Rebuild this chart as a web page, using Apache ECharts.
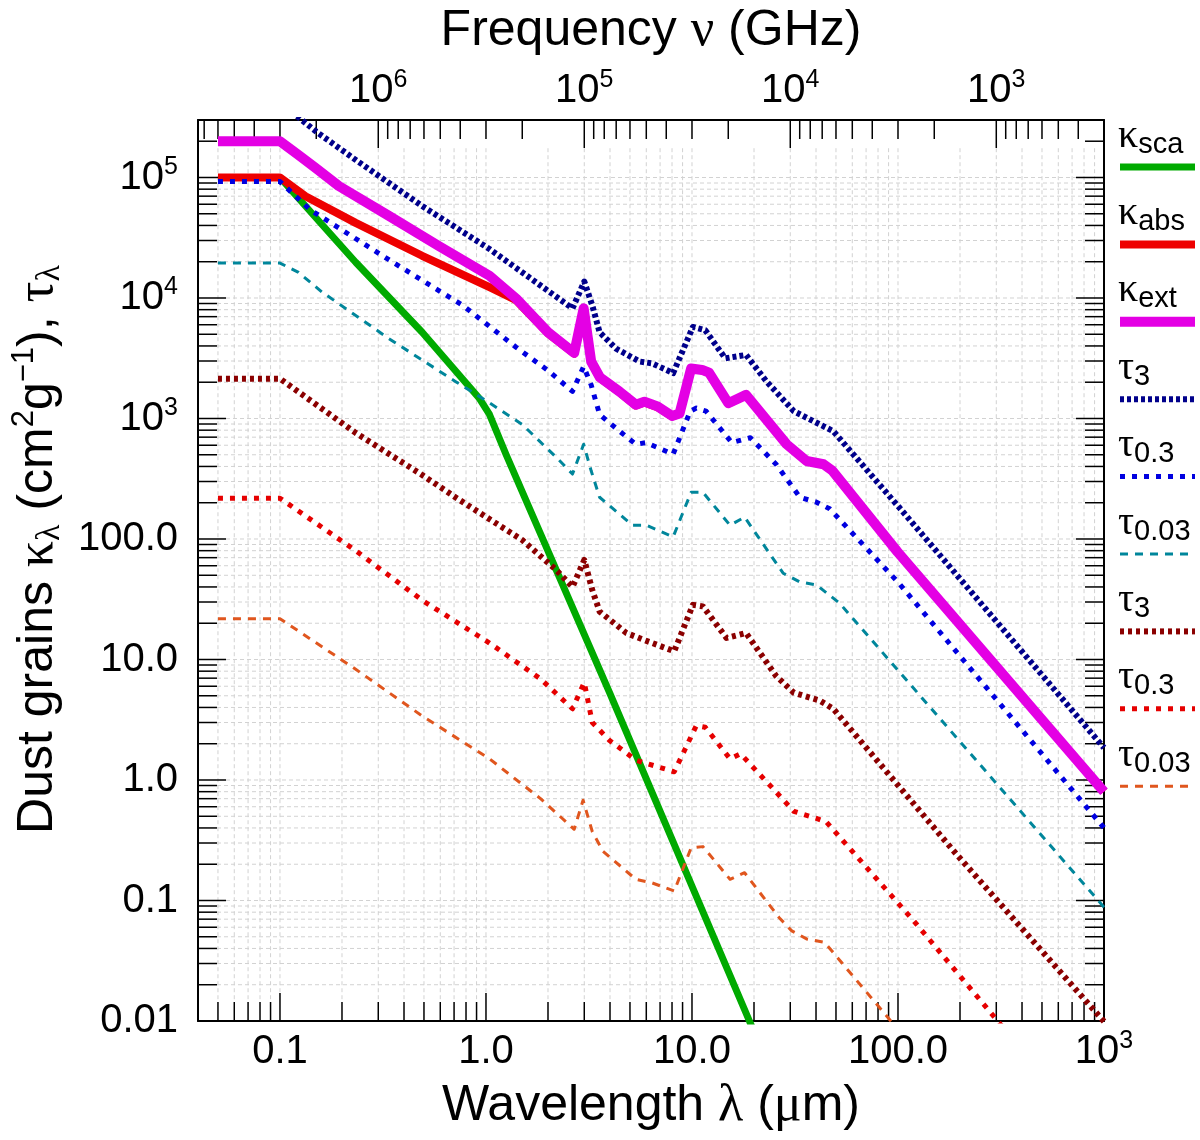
<!DOCTYPE html>
<html>
<head>
<meta charset="utf-8">
<script src="https://cdn.jsdelivr.net/npm/echarts@6/dist/echarts.min.js"></script>
<style>
html, body { margin: 0; padding: 0; background: #fff; }
#chart { width: 1200px; height: 1140px; }
</style>
</head>
<body>
<div id="chart"></div>
<script>
// [wavelength (µm), value]
const kSca = [[0.1,1e5],[0.233,1.98e4],[0.49,5.2e3],[0.925,1.48e3],[1.04,1.08e3],[1.25,505],[3.98,5.3],[19,0.01],[22,0.0056]];
const kAbs = [[0.05,1e5],[0.1,1e5],[0.133,7e4],[0.233,4.2e4],[0.49,2.24e4],[1.04,1.23e4],[1.4,9.6e3],[2.0,5.1e3],[2.68,3.45e3],[2.98,8.1e3],[3.24,2.93e3],[3.57,2.17e3],[4.45,1.65e3],[5.34,1.28e3],[5.88,1.36e3],[6.8,1.24e3],[8.0,1.04e3],[8.7,1.09e3],[9.9,2.58e3],[11.2,2.51e3],[12.1,2.38e3],[15.0,1.33e3],[18.3,1.56e3],[28.8,608],[36,442],[43.5,415],[48.1,366],[99.6,77.8],[1000,0.8]];
const kExt = [[0.05,2e5],[0.1,2e5],[0.123,1.54e5],[0.149,1.2e5],[0.193,8.5e4],[0.338,4.8e4],[0.59,2.7e4],[1.04,1.53e4],[1.4,9.9e3],[2.0,5.2e3],[2.68,3.5e3],[2.98,8.2e3],[3.24,2.97e3],[3.57,2.2e3],[4.45,1.67e3],[5.34,1.3e3],[5.88,1.38e3],[6.8,1.26e3],[8.0,1.05e3],[8.7,1.1e3],[9.9,2.6e3],[11.2,2.53e3],[12.1,2.4e3],[15.0,1.34e3],[18.3,1.57e3],[28.8,611],[36,444],[43.5,417],[48.1,368],[99.6,78],[1000,0.8]];
const tau3a = [[0.05,4.2e5],[0.1,4.2e5],[0.15,2.4e5],[0.233,1.4e5],[0.49,5.8e4],[1.04,2.55e4],[1.84,1.27e4],[2.63,8.2e3],[3.0,1.37e4],[3.28,8.7e3],[3.56,5.2e3],[4.28,3.8e3],[5.57,2.97e3],[6.4,2.87e3],[8.1,2.38e3],[10.1,5.75e3],[11.6,5.4e3],[14.5,3.16e3],[18.3,3.37e3],[23,2.03e3],[31.2,1.15e3],[41.8,892],[48.5,785],[101,184],[1000,1.85]];
const tau03a = [[0.05,9.25e4],[0.1,9.25e4],[0.14,5.4e4],[0.35,2.0e4],[0.77,8.7e3],[1.4,3.9e3],[2.0,2.5e3],[2.63,1.68e3],[2.98,2.7e3],[3.24,1.9e3],[3.56,1.08e3],[4.45,785],[5.34,611],[5.98,630],[8.1,505],[9.8,1.15e3],[10.5,1.22e3],[11.7,1.15e3],[15.6,631],[19.2,693],[25.6,417],[33.4,222],[40.2,202],[46.6,178],[101,43],[1000,0.4]];
const tau003a = [[0.05,1.95e4],[0.1,1.95e4],[0.123,1.63e4],[0.16,1.12e4],[0.338,4.6e3],[0.71,2.03e3],[1.04,1.35e3],[1.5,892],[2.2,474],[2.63,346],[2.98,611],[3.24,368],[3.56,222],[5.14,130],[6.0,130],[8.1,104],[9.9,244],[11.3,244],[15.3,130],[18.0,152],[27.7,52],[33.4,44],[40.2,41.6],[52,29.4],[1000,0.088]];
const tau3b = [[0.05,2140],[0.1,2140],[0.233,760],[0.49,340],[0.71,222],[1.5,98],[2.2,55],[2.63,40],[3.0,67],[3.28,37.8],[3.56,25],[4.8,16.6],[5.8,14.6],[8.2,11.7],[10.1,28.4],[11.3,27.6],[14.7,15.1],[18.3,16.6],[25.6,7.3],[31.2,5.3],[41.8,4.55],[48.5,3.9],[193,0.24],[1000,0.0099]];
const tau03b = [[0.05,218],[0.1,218],[0.233,80],[0.49,31],[1.04,13.7],[1.84,6.9],[2.63,3.9],[3.0,6.46],[3.28,3.0],[3.98,2.13],[5.34,1.46],[8.2,1.17],[10.5,2.83],[11.6,2.74],[15.3,1.5],[17.2,1.65],[24.7,0.85],[31.2,0.55],[40.2,0.48],[44.8,0.45],[119,0.068],[330,0.0085]];
const tau003b = [[0.05,21.8],[0.1,21.8],[0.233,8.3],[0.49,3.4],[1.04,1.5],[1.84,0.70],[2.68,0.39],[2.96,0.68],[3.28,0.374],[3.7,0.256],[5.34,0.15],[6.4,0.14],[8.2,0.12],[9.9,0.273],[11.3,0.28],[15.3,0.15],[18.0,0.17],[26.5,0.072],[30.5,0.056],[36,0.048],[44,0.045],[100,0.0085]];

// tick labels
const lamTicks = [0.1, 1, 10, 100, 1000];
const lamTickText = ['0.1', '1.0', '10.0', '100.0', '10^3'];
const nuTicks = [1e3, 1e4, 1e5, 1e6];
const nuTickText = ['10^3', '10^4', '10^5', '10^6'];
const yTicks = [0.01, 0.1, 1, 10, 100, 1e3, 1e4, 1e5];
const yTickText = ['0.01', '0.1', '1.0', '10.0', '100.0', '10^3', '10^4', '10^5'];
const minorSteps = [2, 3, 4, 5, 6, 7, 8, 9];
const lamDecades = [0.01, 0.1, 1, 10, 100];
const nuDecades = [100, 1e3, 1e4, 1e5, 1e6];
const yDecades = [0.01, 0.1, 1, 10, 100, 1e3, 1e4, 1e5];

const legendLabels = [['κ','sca'],['κ','abs'],['κ','ext'],['τ','3'],['τ','0.3'],['τ','0.03'],['τ','3'],['τ','0.3'],['τ','0.03']];
const seriesData = [kSca, kAbs, kExt, tau3a, tau03a, tau003a, tau3b, tau03b, tau003b];
const styles = [
  { color: '#00aa00', width: 7, type: 'solid' },
  { color: '#ee0000', width: 8, type: 'solid' },
  { color: '#e400e4', width: 10, type: 'solid' },
  { color: '#00008b', width: 6, type: [4, 3] },
  { color: '#0000e0', width: 5, type: [5, 7] },
  { color: '#00869b', width: 3, type: [8, 7] },
  { color: '#8b0000', width: 6, type: [4, 4] },
  { color: '#e60000', width: 5, type: [5, 7] },
  { color: '#e0561e', width: 3, type: [8, 7] }
];

const LAM_MIN = 0.04, LAM_MAX = 1000, Y_MIN = 0.01, Y_MAX = 3e5, C_GHZ = 3e5;
const GRID_TOP = 1.75e5;   // dashed grid stops short of the top frame
const SANS = "'Liberation Sans', Arial, Helvetica, sans-serif";
const SERIF = "'Liberation Serif', 'DejaVu Serif', serif";
const GRID_COLOR = '#d2d2d2';
const MAJOR_LEN = 28, MINOR_LEN = 19;

function stepsIn(decades, steps, lo, hi) {
  let out = [];
  decades.forEach(d => steps.forEach(k => {
    const v = k * d;
    if (v > lo * 1.001 && v < hi * 0.999) out.push(v);
  }));
  return out;
}
const allSteps = [1].concat(minorSteps);

function makeFormatter(ticks, texts) {
  return function (v) {
    for (let i = 0; i < ticks.length; i++) {
      if (Math.abs(Math.log10(v) - Math.log10(ticks[i])) < 1e-6) {
        return texts[i].replace(/^10\^(\d+)$/, '{b|10}{s|$1}');
      }
    }
    return '';
  };
}

const tickRich = {
  b: { fontFamily: SANS, fontSize: 40, lineHeight: 46, color: '#000' },
  s: { fontFamily: SANS, fontSize: 25, lineHeight: 25, verticalAlign: 'top', color: '#000' }
};
const nameRich = {
  t: { fontFamily: SANS, fontSize: 50, lineHeight: 58, color: '#000' },
  g: { fontFamily: SERIF, fontSize: 52, lineHeight: 58, color: '#000' },
  sub: { fontFamily: SERIF, fontSize: 34, lineHeight: 34, verticalAlign: 'bottom', color: '#000' },
  sup: { fontFamily: SANS, fontSize: 31, lineHeight: 31, verticalAlign: 'top', color: '#000' }
};
const axisLine = { onZero: false, lineStyle: { color: '#000', width: 2 } };
const dash = { stroke: GRID_COLOR, lineWidth: 1, lineDash: [4, 3] };
const tickStyle = { stroke: '#000', lineWidth: 1.5 };

function tickLen(v) {
  const e = Math.log10(v);
  return Math.abs(e - Math.round(e)) > 1e-6 ? MINOR_LEN : MAJOR_LEN;
}
function seg(x1, y1, x2, y2, style) {
  return { type: 'line', shape: { x1: x1, y1: y1, x2: x2, y2: y2 }, style: style };
}

// wavelength axis: vertical dashed grid + bottom ticks
function renderLamGrid(params, api) {
  const cs = params.coordSys;
  const v = api.value(0);
  const px = api.coord([v, 1])[0];
  const top = api.coord([v, GRID_TOP])[1];
  const bottom = cs.y + cs.height;
  const tl = tickLen(v);
  return { type: 'group', children: [
    seg(px, top, px, bottom - tl, dash),
    seg(px, bottom, px, bottom - tl, tickStyle)
  ]};
}
// frequency axis: top ticks
function renderNuTicks(params, api) {
  const cs = params.coordSys;
  const v = api.value(0);
  const px = api.coord([v, 1])[0];
  return seg(px, cs.y, px, cs.y + tickLen(v), tickStyle);
}
// value axis: horizontal dashed grid + left/right ticks
function renderYGrid(params, api) {
  const cs = params.coordSys;
  const v = api.value(1);
  const py = api.coord([1, v])[1];
  const right = cs.x + cs.width;
  const tl = tickLen(v);
  const kids = [seg(cs.x, py, cs.x + tl, py, tickStyle), seg(right, py, right - tl, py, tickStyle)];
  if (v < GRID_TOP) kids.push(seg(cs.x + tl, py, right - tl, py, dash));
  return { type: 'group', children: kids };
}

const LEG_X0 = 1120, LEG_X1 = 1195, LEG_Y0 = 167, LEG_DY = 77.4;
const legendGraphic = [];
legendLabels.forEach((lab, i) => {
  const y = LEG_Y0 + i * LEG_DY;
  const st = styles[i];
  legendGraphic.push({
    type: 'text', x: LEG_X0 - 2, y: y - 8,
    style: {
      text: '{g|' + lab[0] + '}{s|' + lab[1] + '}',
      align: 'left', verticalAlign: 'bottom',
      rich: {
        g: { fontFamily: SERIF, fontSize: 40, lineHeight: 46, fill: '#000' },
        s: { fontFamily: SANS, fontSize: 29, lineHeight: 29, verticalAlign: 'bottom', fill: '#000' }
      }
    }
  });
  legendGraphic.push({
    type: 'line', shape: { x1: LEG_X0, y1: y, x2: LEG_X1, y2: y },
    style: { stroke: st.color, lineWidth: st.width, lineDash: st.type === 'solid' ? null : st.type }
  });
});

const chart = echarts.init(document.getElementById('chart'));

let series = [
  { type: 'custom', xAxisIndex: 0, yAxisIndex: 0, z: 1, silent: true, renderItem: renderLamGrid,
    encode: { x: 0, y: 1 }, data: stepsIn(lamDecades, allSteps, LAM_MIN, LAM_MAX).map(v => [v, 1]) },
  { type: 'custom', xAxisIndex: 1, yAxisIndex: 0, z: 1, silent: true, renderItem: renderNuTicks,
    encode: { x: 0, y: 1 }, data: stepsIn(nuDecades, allSteps, C_GHZ / LAM_MAX, C_GHZ / LAM_MIN).map(v => [v, 1]) },
  { type: 'custom', xAxisIndex: 0, yAxisIndex: 0, z: 1, silent: true, renderItem: renderYGrid,
    encode: { x: 0, y: 1 }, data: stepsIn(yDecades, allSteps, Y_MIN, Y_MAX).map(v => [1, v]) }
];
seriesData.forEach((d, i) => {
  series.push({
    type: 'line', name: legendLabels[i].join('_'), data: d, xAxisIndex: 0, yAxisIndex: 0,
    symbol: 'none', showSymbol: false, clip: true, z: 3 + i, silent: true,
    lineStyle: { color: styles[i].color, width: styles[i].width, type: styles[i].type, cap: 'butt', join: 'round' }
  });
});

chart.setOption({
  animation: false,
  backgroundColor: '#fff',
  grid: { left: 198, right: 96, top: 114, bottom: 119 },
  xAxis: [
    {
      type: 'log', min: LAM_MIN, max: LAM_MAX, position: 'bottom', z: 2,
      name: '{t|Wavelength }{g|λ}{t| (}{g|μ}{t|m)}', nameLocation: 'middle', nameGap: 56,
      nameTextStyle: { rich: nameRich },
      axisLine: axisLine, axisTick: { show: false }, splitLine: { show: false },
      axisLabel: { margin: 8, fontFamily: SANS, fontSize: 40, lineHeight: 46, color: '#000',
        formatter: makeFormatter(lamTicks, lamTickText), rich: tickRich }
    },
    {
      type: 'log', min: C_GHZ / LAM_MAX, max: C_GHZ / LAM_MIN, inverse: true, position: 'top', z: 2,
      name: '{t|Frequency }{g|ν}{t| (GHz)}', nameLocation: 'middle', nameGap: 60,
      nameTextStyle: { rich: nameRich },
      axisLine: axisLine, axisTick: { show: false }, splitLine: { show: false },
      axisLabel: { margin: 6, fontFamily: SANS, fontSize: 40, lineHeight: 46, color: '#000',
        formatter: makeFormatter(nuTicks, nuTickText), rich: tickRich }
    }
  ],
  yAxis: [
    {
      type: 'log', min: Y_MIN, max: Y_MAX, position: 'left', z: 2,
      name: '{t|Dust grains }{g|κ}{sub|λ}{t| (cm}{sup|2}{t|g}{sup|−1}{t|), }{g|τ}{sub|λ}',
      nameLocation: 'middle', nameGap: 128,
      nameTextStyle: { rich: nameRich, padding: [0, 0, 0, 42] },
      axisLine: axisLine, axisTick: { show: false }, splitLine: { show: false },
      axisLabel: { margin: 20, fontFamily: SANS, fontSize: 40, lineHeight: 46, color: '#000',
        formatter: makeFormatter(yTicks, yTickText), rich: tickRich }
    },
    {
      type: 'log', min: Y_MIN, max: Y_MAX, position: 'right', z: 2,
      axisLine: axisLine, axisTick: { show: false }, splitLine: { show: false },
      axisLabel: { show: false }
    }
  ],
  graphic: legendGraphic,
  series: series
});
</script>
</body>
</html>
